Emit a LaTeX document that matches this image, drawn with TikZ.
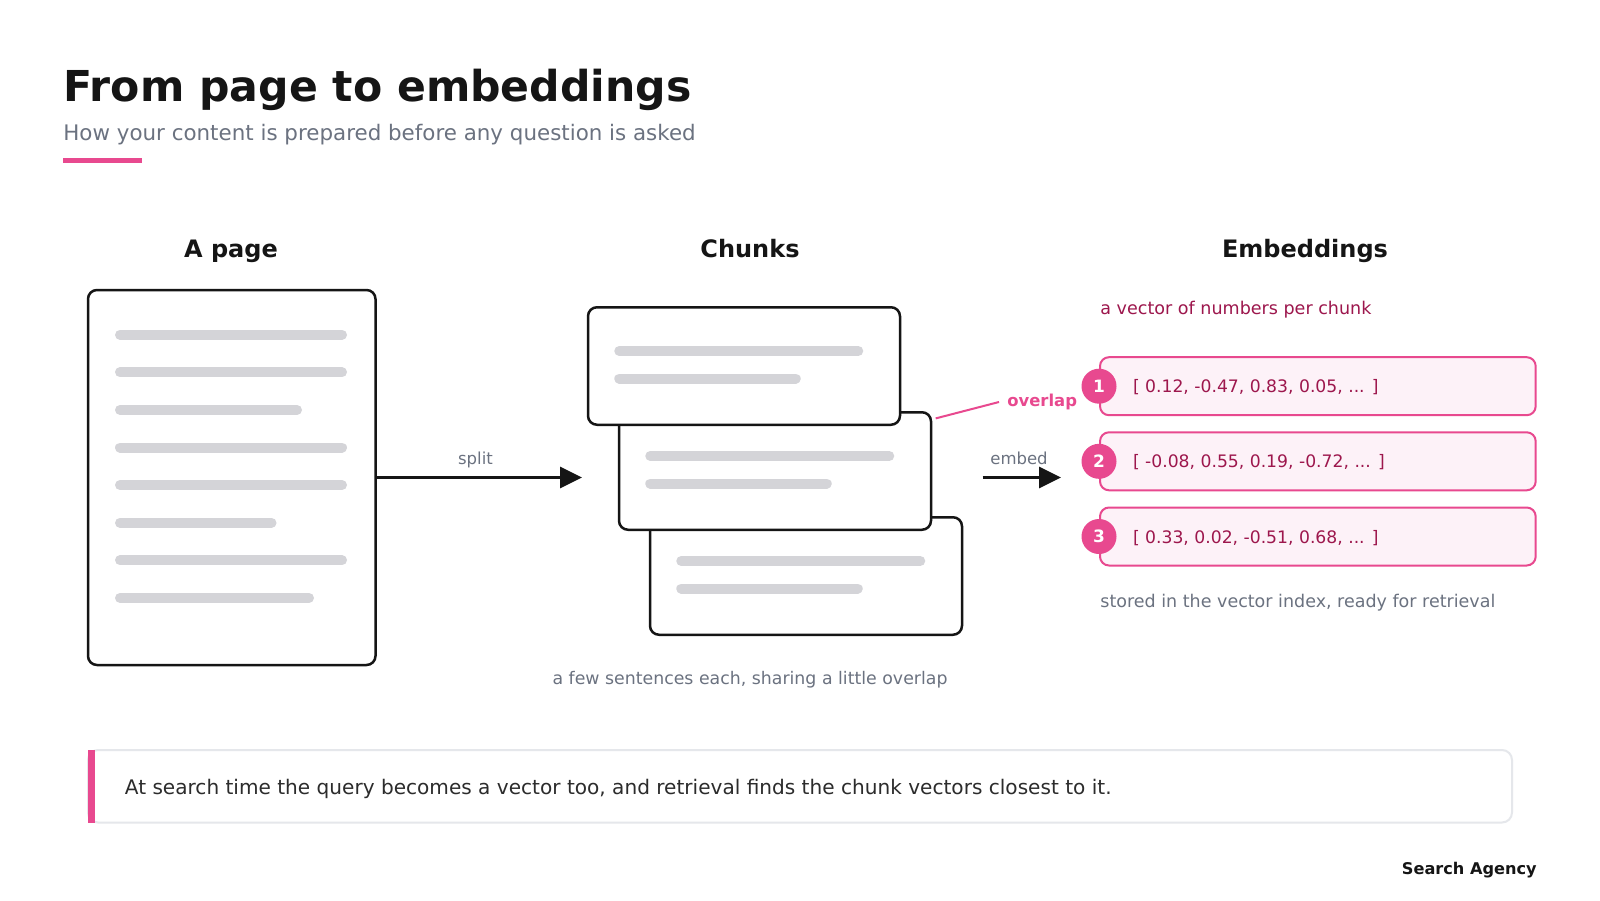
\documentclass[tikz,border=0pt]{standalone}
\usepackage{fontspec}
\setmainfont{DejaVu Sans}
\usetikzlibrary{arrows.meta,calc}
\definecolor{ink}{HTML}{151515}
\definecolor{greytxt}{HTML}{6B7280}
\definecolor{pinkc}{HTML}{E8498F}
\definecolor{darkpink}{HTML}{9D174D}
\definecolor{lightpink}{HTML}{FDF2F8}
\definecolor{barc}{HTML}{D4D4D8}
\definecolor{callborder}{HTML}{E5E7EB}
\newcommand{\fs}[1]{\fontsize{#1pt}{#1pt}\selectfont}
\tikzset{
  boxed/.style={draw=ink, line width=1.25pt, rounded corners=4.5pt, fill=white, inner sep=0pt},
  bar/.style={draw=barc, line width=5pt, line cap=round},
  flow/.style={draw=ink, line width=1.5pt, -{Triangle[length=11pt,width=10.5pt]}},
  vecbox/.style={draw=pinkc, line width=1pt, fill=lightpink, rounded corners=4.5pt, minimum width=217.85pt, minimum height=29pt, inner sep=0pt},
  badge/.style={circle, fill=pinkc, minimum size=17.5pt, inner sep=0pt, text=white, font=\fs{8.5}\bfseries},
  header/.style={anchor=base, font=\fs{12}\bfseries, text=ink},
  flowlabel/.style={anchor=base, inner sep=0pt, font=\fs{8.25}, text=greytxt},
}
\begin{document}
\begin{tikzpicture}[x=0.5pt,y=-0.5pt]
\useasboundingbox[fill=white] (0,0) rectangle (1600,900);

% title block
\node[anchor=base west, inner sep=0pt, font=\fs{21.3}\bfseries, text=ink] (title) at (63,101) {From page to embeddings};
\node[anchor=base west, inner sep=0pt, font=\fs{10.7}, text=greytxt] (subtitle) at (63,140) {How your content is prepared before any question is asked};
\fill[pinkc] (63,158) rectangle (142,163);

% headers
\node[header] (h1) at (231,257) {A page};
\node[header] (h2) at (750,257) {Chunks};
\node[header] (h3) at (1305,257) {Embeddings};

% page
\node[boxed, minimum width=143.75pt, minimum height=187.5pt] (page) at (231.75,477.5) {};
\foreach \e [count=\i from 0] in {347,347,302,347,347,276.5,347,314}{
  \draw[bar] (120,{334.7+37.6*\i}) -- ({\e-5},{334.7+37.6*\i});
}

% split arrow
\coordinate (splitend) at (582,477.5);
\draw[flow] (page.east) -- (splitend);
\node[flowlabel] (splitlbl) at (475.5,464) {split};

% chunks
\node[boxed, minimum width=156pt, minimum height=58.75pt] (c3) at (806,576) {};
\node[boxed, minimum width=156pt, minimum height=58.75pt] (c2) at (775,471) {};
\node[boxed, minimum width=156pt, minimum height=58.75pt] (c1) at (744,366) {};
\foreach \c in {c1,c2,c3}{
  \draw[bar] ($(\c.north west)+(32.5,45)$) -- ($(\c.north west)+(271.5,45)$);
  \draw[bar] ($(\c.north west)+(32.5,72.5)$) -- ($(\c.north west)+(209,72.5)$);
}
\node[anchor=west, inner sep=4pt, font=\fs{8.2}\bfseries, text=pinkc] (olap) at (999,402) {overlap};
\coordinate (olapstart) at (935.7,418.4);
\draw[pinkc, line width=1pt] (olapstart) -- (olap.west);

\node[anchor=base, inner sep=0pt, font=\fs{8.67}, text=greytxt] (caption) at (750,684) {a few sentences each, sharing a little overlap};

% embed arrow
\coordinate (embstart) at (982.6,477.5);
\coordinate (embend) at (1061,477.5);
\draw[flow] (embstart) -- (embend);
\node[flowlabel] (emblbl) at (1019,464) {embed};

% embeddings
\node[anchor=base west, inner sep=0pt, font=\fs{8.77}, text=darkpink] (vsub) at (1100,314) {a vector of numbers per chunk};
\foreach \y/\n/\t in {386.2/1/{[ 0.12, -0.47, 0.83, 0.05, ... ]},
                      461.3/2/{[ -0.08, 0.55, 0.19, -0.72, ... ]},
                      536.5/3/{[ 0.33, 0.02, -0.51, 0.68, ... ]}}{
  \node[vecbox] (v\n) at (1317.85,\y) {};
  \node[badge] (b\n) at (v\n.west) {\n};
  \node[anchor=base west, inner sep=0pt, font=\fs{8.6}, text=darkpink] (vt\n) at (1132.6,{\y+6.5}) {\t};
}
\node[anchor=base west, inner sep=0pt, font=\fs{8.75}, text=greytxt] (stored) at (1100,607) {stored in the vector index, ready for retrieval};

% callout
\draw[callborder, line width=1pt, rounded corners=5pt, fill=white] (88,750) rectangle (1512,822.5);
\fill[pinkc] (88,750) rectangle (95,822.5);
\node[anchor=base west, inner sep=0pt, font=\fs{10.04}, text=ink!90] (callout) at (124.5,794) {At search time the query becomes a vector too, and retrieval finds the chunk vectors closest to it.};

\node[anchor=base east, inner sep=0pt, font=\fs{8.07}\bfseries, text=ink] (brand) at (1537,874) {Search Agency};
\end{tikzpicture}
\end{document}
